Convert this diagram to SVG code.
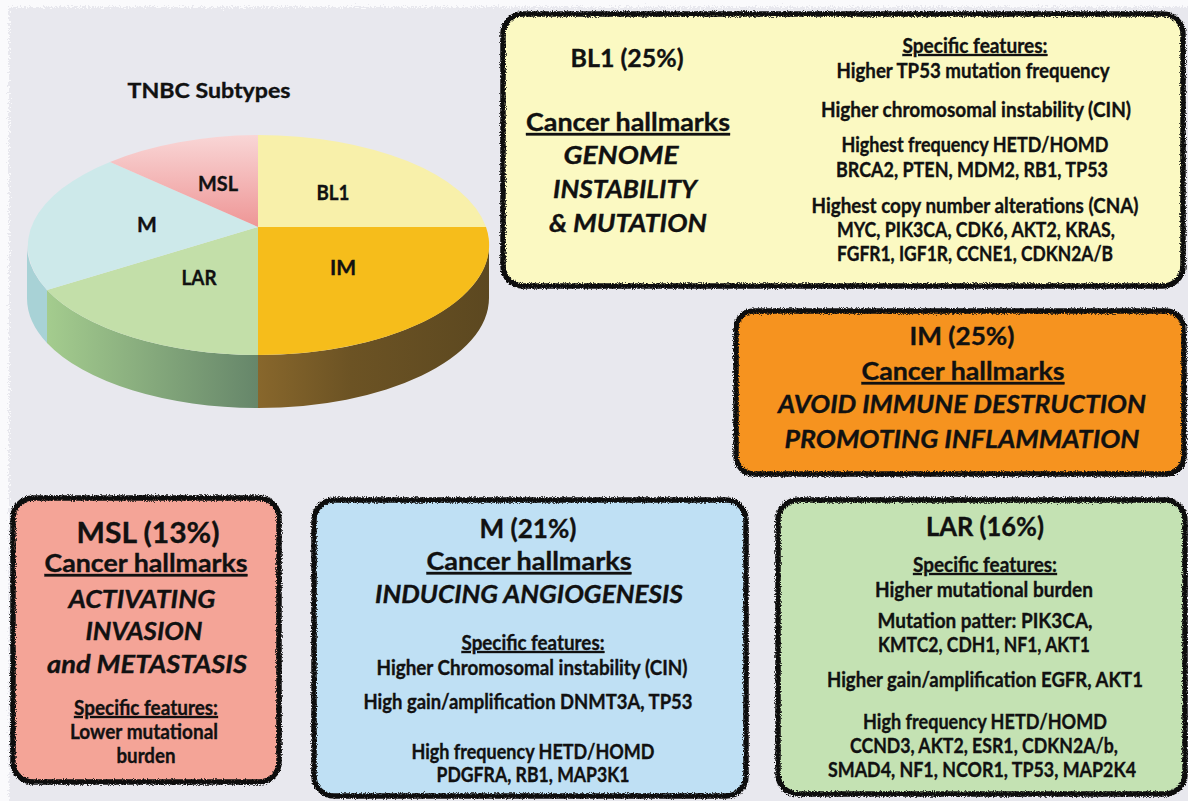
<svg xmlns="http://www.w3.org/2000/svg" width="1188" height="801" viewBox="0 0 1188 801">
<defs>
<filter id="rough" x="-3%" y="-3%" width="106%" height="106%">
<feTurbulence type="fractalNoise" baseFrequency="0.9" numOctaves="2" seed="3" result="n"/>
<feDisplacementMap in="SourceGraphic" in2="n" scale="4.5" xChannelSelector="R" yChannelSelector="G"/>
</filter>
<filter id="roughbg" x="-2%" y="-2%" width="104%" height="104%">
<feTurbulence type="fractalNoise" baseFrequency="0.6" numOctaves="2" seed="7" result="n"/>
<feDisplacementMap in="SourceGraphic" in2="n" scale="10" xChannelSelector="R" yChannelSelector="G"/>
</filter>
<linearGradient id="mslG" x1="0" y1="0" x2="0" y2="1">
<stop offset="0" stop-color="#f9d6d6"/>
<stop offset="1" stop-color="#ee9696"/>
</linearGradient>
<linearGradient id="larSide" x1="0" y1="0" x2="1" y2="0">
<stop offset="0" stop-color="#a4cc8e"/>
<stop offset="1" stop-color="#66866a"/>
</linearGradient>
<linearGradient id="imSide" x1="0" y1="0" x2="1" y2="0">
<stop offset="0" stop-color="#88672c"/>
<stop offset="0.4" stop-color="#6c5324"/>
<stop offset="1" stop-color="#5c4820"/>
</linearGradient>
</defs>
<style>
text{font-family:Lato,"Open Sans","Liberation Sans",sans-serif;font-weight:700;fill:#111;stroke:#111;stroke-width:0.35;text-anchor:middle}
.s{font-size:20px}
.h{font-size:24.5px}
.t{font-size:26px}
.i{font-size:25px;font-style:italic}
.u{text-decoration:underline}
.p{font-size:21px}
.frame{fill:none;stroke:#111;stroke-width:5.5;filter:url(#rough)}
</style>
<rect x="0" y="0" width="1188" height="801" fill="#fafafc"/>
<rect x="9" y="7" width="1200" height="820" fill="#e8e8ee" filter="url(#roughbg)"/>

<g id="pie">
<text class="p" x="209" y="98" textLength="163" lengthAdjust="spacingAndGlyphs">TNBC Subtypes</text>
<path d="M27,245 A231,110 0 0 0 47,290 L47,343 A231,110 0 0 1 27,298 Z" fill="#a8d2d6"/>
<path d="M47,290 A231,110 0 0 0 258,355 L258,408 A231,110 0 0 1 47,343 Z" fill="url(#larSide)"/>
<path d="M258,355 A231,110 0 0 0 489,245 L489,298 A231,110 0 0 1 258,408 Z" fill="url(#imSide)"/>
<path id="slice-bl1" d="M258,227 L258,135 A231,110 0 0 1 486,227 Z" fill="#f8f0aa"/>
<path id="slice-im" d="M258,227 L486,227 A231,110 0 0 1 258,355 Z" fill="#f6bd1b"/>
<path id="slice-lar" d="M258,227 L258,355 A231,110 0 0 1 47,290 Z" fill="#c3dfa9"/>
<path id="slice-m" d="M258,227 L47,290 A231,110 0 0 1 110,162 Z" fill="#cde9ea"/>
<path id="slice-msl" d="M258,227 L110,162 A231,110 0 0 1 258,135 Z" fill="url(#mslG)"/>
<text class="p" x="218" y="191" textLength="40" lengthAdjust="spacingAndGlyphs">MSL</text>
<text class="p" x="333" y="200" textLength="33" lengthAdjust="spacingAndGlyphs">BL1</text>
<text class="p" x="147" y="232">M</text>
<text class="p" x="199" y="285" textLength="35" lengthAdjust="spacingAndGlyphs">LAR</text>
<text class="p" x="343" y="275">IM</text>
</g>

<g id="connectors"/>

<g id="box-bl1">
<rect x="503" y="14" width="680" height="272" rx="20" fill="#fbf9c2"/>
<rect class="frame" x="503" y="14" width="680" height="272" rx="20"/>
<text class="h" x="627" y="67" textLength="113" lengthAdjust="spacingAndGlyphs">BL1 (25%)</text>
<text class="h u" x="628" y="131" textLength="204" lengthAdjust="spacingAndGlyphs">Cancer hallmarks</text>
<text class="i" x="621" y="164" textLength="115" lengthAdjust="spacingAndGlyphs">GENOME</text>
<text class="i" x="625" y="198" textLength="144" lengthAdjust="spacingAndGlyphs">INSTABILITY</text>
<text class="i" x="628" y="232" textLength="158" lengthAdjust="spacingAndGlyphs">&amp; MUTATION</text>
<text class="s u" x="975" y="53" textLength="145" lengthAdjust="spacingAndGlyphs">Specific features:</text>
<text class="s" x="973" y="78" textLength="273" lengthAdjust="spacingAndGlyphs">Higher TP53 mutation frequency</text>
<text class="s" x="976" y="117" textLength="310" lengthAdjust="spacingAndGlyphs">Higher chromosomal instability (CIN)</text>
<text class="s" x="975" y="152" textLength="267" lengthAdjust="spacingAndGlyphs">Highest frequency HETD/HOMD</text>
<text class="s" x="972" y="177" textLength="272" lengthAdjust="spacingAndGlyphs">BRCA2, PTEN, MDM2, RB1, TP53</text>
<text class="s" x="975" y="213" textLength="327" lengthAdjust="spacingAndGlyphs">Highest copy number alterations (CNA)</text>
<text class="s" x="976" y="237" textLength="278" lengthAdjust="spacingAndGlyphs">MYC, PIK3CA, CDK6, AKT2, KRAS,</text>
<text class="s" x="975" y="261" textLength="276" lengthAdjust="spacingAndGlyphs">FGFR1, IGF1R, CCNE1, CDKN2A/B</text>
</g>

<g id="box-im">
<rect x="736" y="311" width="448" height="163" rx="18" fill="#f6931f"/>
<rect class="frame" x="736" y="311" width="448" height="163" rx="18"/>
<text class="h" x="962" y="345" textLength="105" lengthAdjust="spacingAndGlyphs">IM (25%)</text>
<text class="h u" x="963" y="380" textLength="203" lengthAdjust="spacingAndGlyphs">Cancer hallmarks</text>
<text class="i" x="962" y="413" textLength="368" lengthAdjust="spacingAndGlyphs">AVOID IMMUNE DESTRUCTION</text>
<text class="i" x="962" y="448" textLength="355" lengthAdjust="spacingAndGlyphs">PROMOTING INFLAMMATION</text>
</g>

<g id="box-msl">
<rect x="13" y="498" width="266" height="284" rx="20" fill="#f4a497"/>
<rect class="frame" x="13" y="498" width="266" height="284" rx="20"/>
<text class="t" style="font-size:28px" x="148" y="543" textLength="143" lengthAdjust="spacingAndGlyphs">MSL (13%)</text>
<text class="h u" x="146" y="572" textLength="203" lengthAdjust="spacingAndGlyphs">Cancer hallmarks</text>
<text class="i" x="142" y="608" textLength="147" lengthAdjust="spacingAndGlyphs">ACTIVATING</text>
<text class="i" x="144" y="640" textLength="117" lengthAdjust="spacingAndGlyphs">INVASION</text>
<text class="i" x="147" y="673" textLength="200" lengthAdjust="spacingAndGlyphs">and METASTASIS</text>
<text class="s u" x="146" y="715" textLength="144" lengthAdjust="spacingAndGlyphs">Specific features:</text>
<text class="s" x="144" y="739" textLength="148" lengthAdjust="spacingAndGlyphs">Lower mutational</text>
<text class="s" x="146" y="763" textLength="59" lengthAdjust="spacingAndGlyphs">burden</text>
</g>

<g id="box-m">
<rect x="314" y="500" width="432" height="296" rx="20" fill="#bfe0f4"/>
<rect class="frame" x="314" y="500" width="432" height="296" rx="20"/>
<text class="t" x="528" y="538" textLength="97" lengthAdjust="spacingAndGlyphs">M (21%)</text>
<text class="h u" x="529" y="570" textLength="205" lengthAdjust="spacingAndGlyphs">Cancer hallmarks</text>
<text class="i" x="529" y="603" textLength="308" lengthAdjust="spacingAndGlyphs">INDUCING ANGIOGENESIS</text>
<text class="s u" x="533" y="650" textLength="143" lengthAdjust="spacingAndGlyphs">Specific features:</text>
<text class="s" x="532" y="675" textLength="311" lengthAdjust="spacingAndGlyphs">Higher Chromosomal instability (CIN)</text>
<text class="s" x="528" y="709" textLength="329" lengthAdjust="spacingAndGlyphs">High gain/amplification DNMT3A, TP53</text>
<text class="s" x="533" y="759" textLength="243" lengthAdjust="spacingAndGlyphs">High frequency HETD/HOMD</text>
<text class="s" x="533" y="782" textLength="193" lengthAdjust="spacingAndGlyphs">PDGFRA, RB1, MAP3K1</text>
</g>

<g id="box-lar">
<rect x="778" y="500" width="407" height="294" rx="20" fill="#c4e2b3"/>
<rect class="frame" x="778" y="500" width="407" height="294" rx="20"/>
<text class="t" x="985" y="536" textLength="118" lengthAdjust="spacingAndGlyphs">LAR (16%)</text>
<text class="s u" x="985" y="572" textLength="144" lengthAdjust="spacingAndGlyphs">Specific features:</text>
<text class="s" x="984" y="597" textLength="218" lengthAdjust="spacingAndGlyphs">Higher mutational burden</text>
<text class="s" x="985" y="628" textLength="215" lengthAdjust="spacingAndGlyphs">Mutation patter: PIK3CA,</text>
<text class="s" x="984" y="652" textLength="212" lengthAdjust="spacingAndGlyphs">KMTC2, CDH1, NF1, AKT1</text>
<text class="s" x="985" y="687" textLength="316" lengthAdjust="spacingAndGlyphs">Higher gain/amplification EGFR, AKT1</text>
<text class="s" x="985" y="729" textLength="244" lengthAdjust="spacingAndGlyphs">High frequency HETD/HOMD</text>
<text class="s" x="984" y="753" textLength="268" lengthAdjust="spacingAndGlyphs">CCND3, AKT2, ESR1, CDKN2A/b,</text>
<text class="s" x="982" y="777" textLength="308" lengthAdjust="spacingAndGlyphs">SMAD4, NF1, NCOR1, TP53, MAP2K4</text>
</g>
</svg>
